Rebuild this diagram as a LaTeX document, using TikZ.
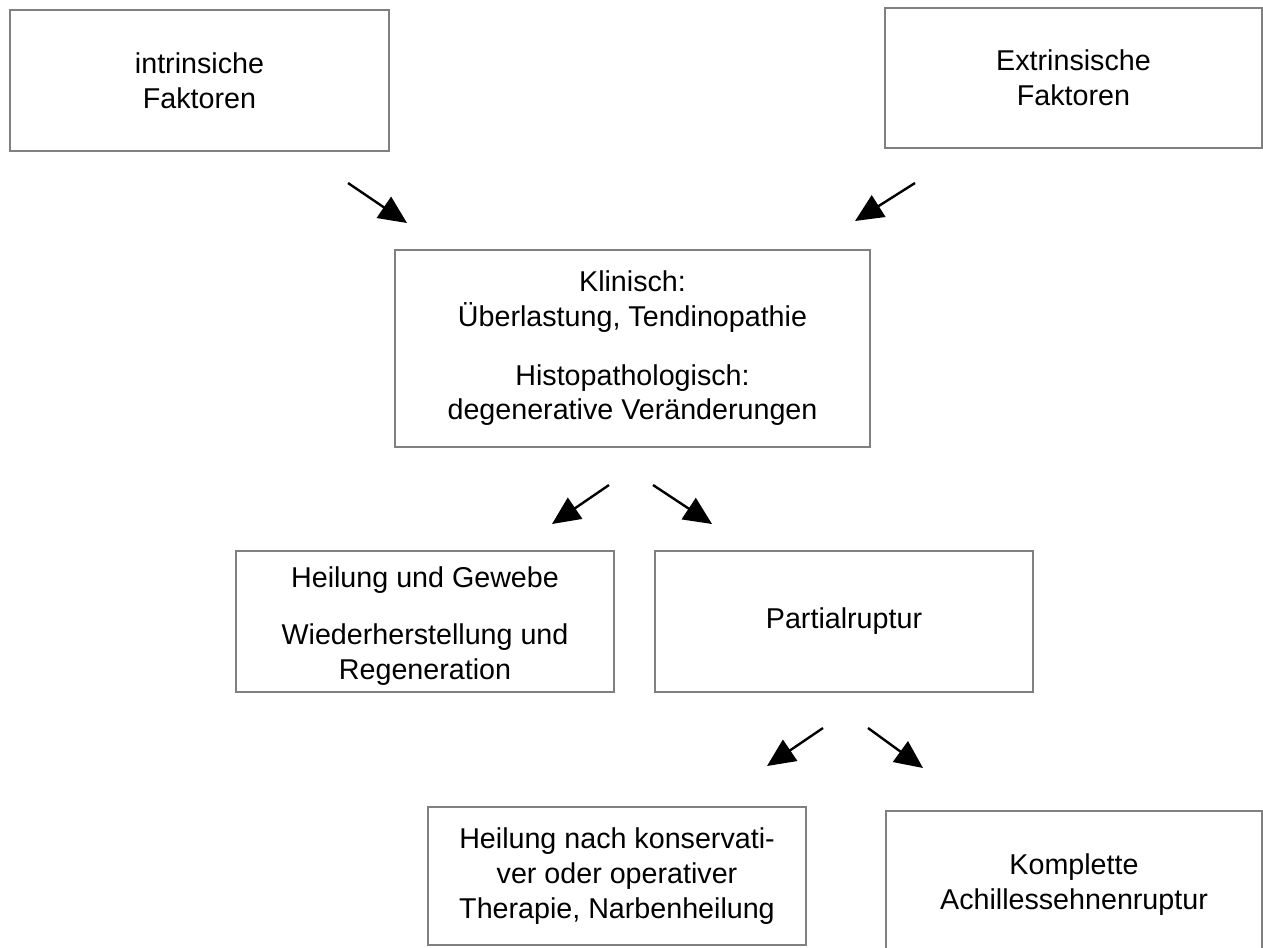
\documentclass[tikz,border=0pt]{standalone}
\usepackage{fontspec}
\setmainfont{Liberation Sans}
\usetikzlibrary{arrows.meta}
\definecolor{boxgray}{RGB}{128,128,128}
\begin{document}
\begin{tikzpicture}[x=0.75pt,y=-0.75pt,
  box/.style={draw=boxgray,line width=1.6pt,rectangle,inner sep=0pt,align=center,
    font=\fontsize{21.5}{26}\selectfont,text=black},
  arr/.style={draw=black,line width=1.8pt,-{Triangle[length=21pt,width=19pt]}}]
\clip (0,0) rectangle (1263,947);
\useasboundingbox (0,0) rectangle (1263,947);
\fill[white] (0,0) rectangle (1263,947);
\node[box,minimum width=379*0.75pt,minimum height=141*0.75pt] (intr) at (199.5,80.5) {intrinsiche\\Faktoren};
\node[box,minimum width=377*0.75pt,minimum height=140*0.75pt] (extr) at (1073.5,78) {Extrinsische\\Faktoren};
\node[box,minimum width=475*0.75pt,minimum height=197*0.75pt] (klin) at (632.5,348.5) {Klinisch:\\Überlastung, Tendinopathie\\[18pt]Histopathologisch:\\degenerative Veränderungen};
\node[box,minimum width=378*0.75pt,minimum height=141*0.75pt] (heil) at (425,621.5) {\rule{0pt}{22pt}Heilung und Gewebe\\[17pt]Wiederherstellung und\\Regeneration};
\node[box,minimum width=378*0.75pt,minimum height=141*0.75pt] (part) at (844,621.5) {Partialruptur};
\node[box,minimum width=378*0.75pt,minimum height=138*0.75pt] (ther) at (617,876) {Heilung nach konservati-\\ver oder operativer\\Therapie, Narbenheilung};
\node[box,minimum width=376*0.75pt,minimum height=147*0.75pt] (komp) at (1074,884.5) {Komplette\\Achillessehnenruptur};
\coordinate (a1s) at (348,183); \coordinate (a1e) at (407,223);
\coordinate (a2s) at (915,183); \coordinate (a2e) at (855,221);
\coordinate (a3s) at (609,485); \coordinate (a3e) at (552,524);
\coordinate (a4s) at (653,485); \coordinate (a4e) at (712,524);
\coordinate (a5s) at (823,728); \coordinate (a5e) at (767,766);
\coordinate (a6s) at (868,728); \coordinate (a6e) at (923,768);
\draw[arr] (a1s) -- (a1e);
\draw[arr] (a2s) -- (a2e);
\draw[arr] (a3s) -- (a3e);
\draw[arr] (a4s) -- (a4e);
\draw[arr] (a5s) -- (a5e);
\draw[arr] (a6s) -- (a6e);
\end{tikzpicture}
\end{document}
